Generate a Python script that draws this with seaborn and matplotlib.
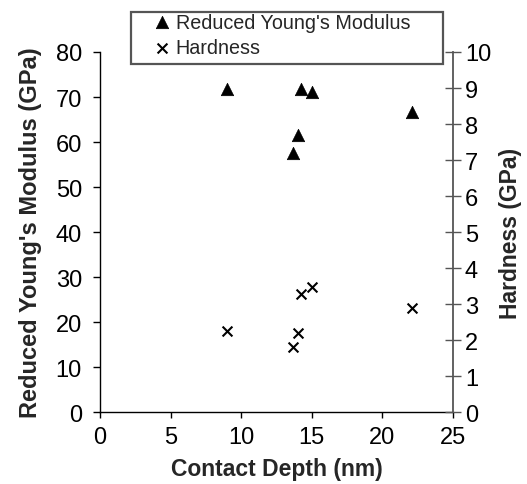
import numpy as np
import pandas as pd
import matplotlib
matplotlib.use("Agg")
import matplotlib.pyplot as plt
from matplotlib.patches import Rectangle
import seaborn as sns

# Values
depth = [9.0, 13.7, 14.0, 14.2, 15.0, 22.1]           # contact depth (nm)
modulus = [71.8, 57.6, 61.5, 71.8, 71.2, 66.6]        # reduced Young's modulus (GPa)
hardness = [2.25, 1.81, 2.2, 3.28, 3.49, 2.89]        # hardness (GPa)

df = pd.DataFrame({"depth": depth, "modulus": modulus, "hardness": hardness})

sns.set_theme(style="white")
plt.rcParams["font.family"] = ["Liberation Sans", "DejaVu Sans"]

W, H = 527, 485
fig = plt.figure(figsize=(W / 100, H / 100), dpi=100)
ax = fig.add_axes([100 / W, 1 - 413.3 / H, 353 / W, 360.3 / H])
ax2 = ax.twinx()

sns.scatterplot(data=df, x="depth", y="modulus", ax=ax, marker="^", s=80,
                color="black", edgecolor="black", linewidth=0.5,
                label="Reduced Young's Modulus", legend=False)
sns.scatterplot(data=df, x="depth", y="hardness", ax=ax2, marker="x", s=50,
                color="black", linewidth=1.5,
                label="Hardness", legend=False)

ax.set_xlim(0, 25)
ax.set_ylim(0, 80)
ax2.set_ylim(0, 10)
ax.set_xticks(np.arange(0, 26, 5))
ax.set_yticks(np.arange(0, 81, 10))
ax2.set_yticks(np.arange(0, 11, 1))

ax.set_xlabel("Contact Depth (nm)", fontsize=16.5, fontweight="bold", labelpad=6)
ax.set_ylabel("Reduced Young's Modulus (GPa)", fontsize=17, fontweight="bold", labelpad=10)
ax2.set_ylabel("Hardness (GPa)", fontsize=16.5, fontweight="bold", labelpad=6)

for a in (ax, ax2):
    a.spines["top"].set_visible(False)
ax.spines["right"].set_visible(False)
ax2.spines["left"].set_visible(False)
ax2.spines["bottom"].set_visible(False)
ax.spines["left"].set_color("black")
ax.spines["bottom"].set_color("black")
ax2.spines["right"].set_color("#555555")
for s in ("left", "bottom"):
    ax.spines[s].set_linewidth(1.0)
ax2.spines["right"].set_linewidth(1.3)

ax.tick_params(axis="y", labelsize=17, colors="black", direction="out",
               length=5, width=1, left=True, pad=8)
ax.tick_params(axis="x", labelsize=17, colors="black", direction="out",
               length=4, width=1, bottom=True, pad=6)
ax2.tick_params(axis="y", labelsize=17, direction="inout", length=11, width=1,
                color="#555555", labelcolor="black", right=True, pad=3)

# legend box drawn as its own frame, entries placed inside it
fig.patches.append(Rectangle((131 / W, 1 - 65 / H), 312 / W, 52 / H,
                             transform=fig.transFigure, fill=False,
                             edgecolor="#555555", linewidth=1.6))
h1, l1 = ax.get_legend_handles_labels()
h2, l2 = ax2.get_legend_handles_labels()
leg = fig.legend(h1 + h2, l1 + l2, loc="center left",
                 bbox_to_anchor=(150 / W, 1 - 36 / H),
                 fontsize=14.2, frameon=False, handlelength=1.2,
                 handletextpad=0.1, labelspacing=0.35, borderpad=0,
                 borderaxespad=0, markerscale=1.0)

fig.savefig("out.png", dpi=100)
